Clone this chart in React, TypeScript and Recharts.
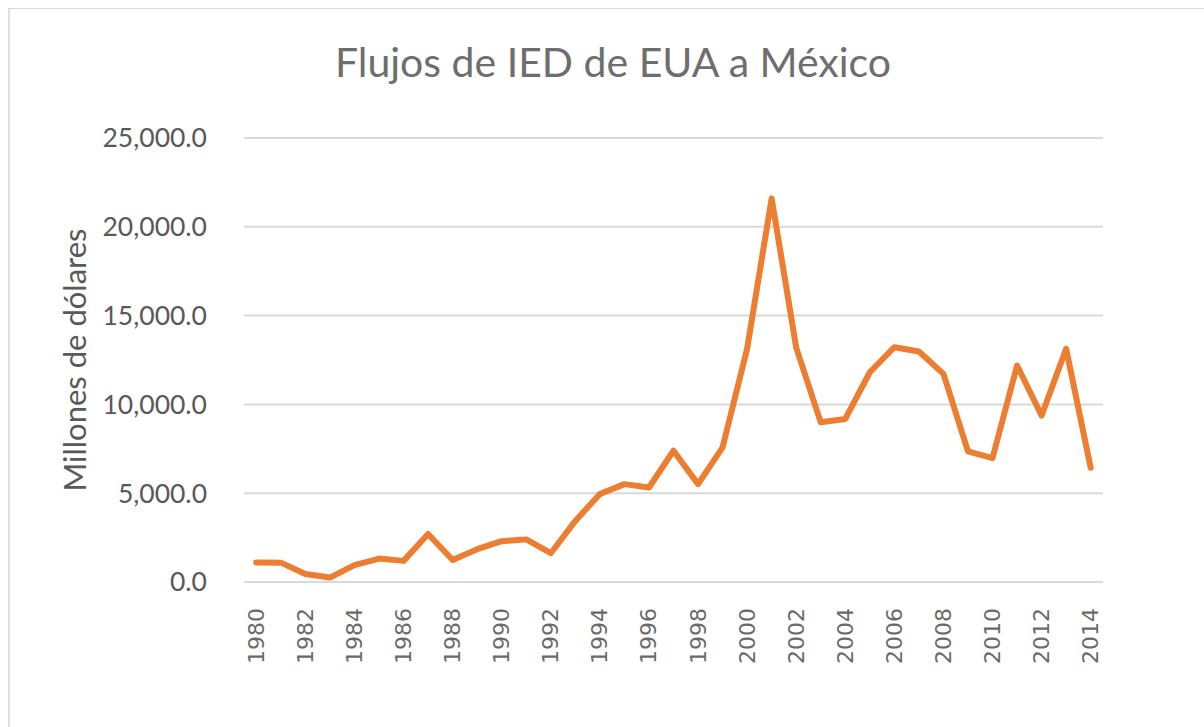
import { LineChart, Line, XAxis, YAxis, CartesianGrid, Label } from "recharts";

const years = [
  "1980", "1981", "1982", "1983", "1984", "1985", "1986", "1987", "1988", "1989",
  "1990", "1991", "1992", "1993", "1994", "1995", "1996", "1997", "1998", "1999",
  "2000", "2001", "2002", "2003", "2004", "2005", "2006", "2007", "2008", "2009",
  "2010", "2011", "2012", "2013", "2014",
];

// millones de dólares
const flujos = [
  1100, 1090, 450, 250, 950, 1320, 1190, 2700, 1240, 1850,
  2300, 2400, 1620, 3440, 4950, 5510, 5320, 7390, 5510, 7580,
  13130, 21600, 13200, 8990, 9180, 11810, 13220, 12980, 11720, 7350,
  6980, 12190, 9370, 13130, 6430,
];

const yTicks = [0, 5000, 10000, 15000, 20000, 25000];

const data = years.map((year, i) => ({ year, value: flujos[i] }));

const textColor = "#595959";
const fmt = (v: number) =>
  v.toLocaleString("en-US", { minimumFractionDigits: 1, maximumFractionDigits: 1 });

const YearTick = (props: any) => {
  const { x, y, payload } = props;
  return (
    <text
      x={x}
      y={y + 18}
      transform={`rotate(-90, ${x}, ${y + 18})`}
      textAnchor="end"
      dominantBaseline="central"
      fill="#6a6a6a"
      fontSize={22}
      fontFamily="DejaVu Sans"
    >
      {payload.value}
    </text>
  );
};

export default function App() {
  return (
    <div
      style={{
        position: "fixed",
        top: 8,
        left: 8,
        width: 1194,
        height: 718,
        borderTop: "1px solid #d9d9d9",
        borderLeft: "2px solid #e0e0e0",
        background: "#fff",
        overflow: "hidden",
      }}
    >
      <div
        style={{
          position: "absolute",
          top: 32,
          left: 0,
          width: 1194,
          textAlign: "center",
          fontFamily: "Lato",
          fontWeight: 400,
          fontSize: 41,
          lineHeight: "42px",
          color: "#6e6e6e",
          transform: "translateX(6px)",
        }}
      >
        Flujos de IED de EUA a México
      </div>
      <LineChart
        width={1194}
        height={718}
        data={data}
        margin={{ top: 129, right: 101, bottom: 0, left: 0 }}
      >
        <CartesianGrid vertical={false} stroke="#d9d9d9" strokeWidth={2} />
        <XAxis
          dataKey="year"
          interval={1}
          axisLine={false}
          tickLine={false}
          height={145}
          padding={{ left: 12.3, right: 12.3 }}
          tick={<YearTick />}
        />
        <YAxis
          domain={[0, 25000]}
          ticks={yTicks}
          width={234}
          axisLine={false}
          tickLine={false}
          tickSize={0}
          tickMargin={37}
          tickFormatter={fmt}
          tick={{ fill: textColor, fontSize: 26.5, fontFamily: "Lato" }}
        >
          <Label
            value="Millones de dólares"
            angle={-90}
            position="insideLeft"
            offset={65}
            style={{ textAnchor: "middle", fill: textColor, fontSize: 31, fontFamily: "Lato" }}
          />
        </YAxis>
        <Line
          type="linear"
          dataKey="value"
          stroke="#ED7D31"
          strokeWidth={6}
          strokeLinejoin="round"
          strokeLinecap="round"
          dot={false}
          activeDot={false}
          isAnimationActive={false}
        />
      </LineChart>
    </div>
  );
}
